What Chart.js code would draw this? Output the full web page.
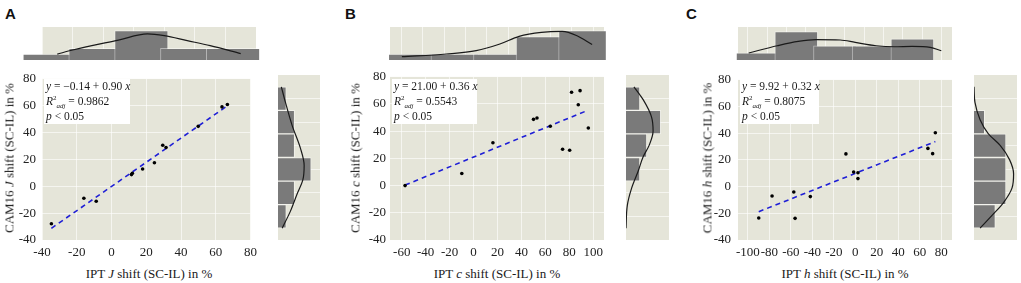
<!DOCTYPE html>
<html>
<head>
<meta charset="utf-8">
<script src="https://cdn.jsdelivr.net/npm/chart.js@4.4.1/dist/chart.umd.min.js"></script>
<style>
  body { margin: 0; background: #fff; }
  #wrap { position: relative; width: 1021px; height: 283px; overflow: hidden;
          font-family: "Liberation Serif", "Times New Roman", serif; color: #1a1a1a; }
  .box { position: absolute; }
  .box canvas { display: block; }
  .lab { position: absolute; font: bold 15px/15px "Liberation Sans", Arial, sans-serif; color: #111; }
  .xt { position: absolute; font-size: 13px; line-height: 15px; white-space: nowrap; transform: translate(-50%, -50%); }
  .yt { position: absolute; font-size: 13px; line-height: 15px; white-space: nowrap; transform: translate(-50%, -50%) rotate(-90deg); }
  .eq { position: absolute; background: #fff; font-size: 11.5px; line-height: 15px; padding: 0 2px; box-sizing: border-box; white-space: nowrap; }
  .eq sup, .eq sub { font-size: 7px; line-height: 0; }
</style>
</head>
<body>
<div id="wrap"></div>
<script>
// ---- panel A: lightness J ----
const ptsAx = [-34.6, -15.9, -8.8, 11.5, 12.0, 17.9, 24.7, 29.5, 31.4, 49.9, 63.6, 66.7];
const ptsAy = [-27.9, -8.9, -11.1, 8.7, 9.6, 12.9, 17.5, 30.5, 28.9, 44.6, 59.1, 60.9];
const fitAx = [-34.6, 66.7];
const fitAy = [-31.3, 59.9];
const topBinWidthA = 30;
const topBinsA = [-45, -15, 15, 45, 75];
const topCountsA = [1, 2, 5, 2, 2];
const topDensAx = [-40, -30, 0, 19, 30, 45, 60, 80];
const topDensAy = [1.0, 1.7, 3.4, 4.45, 4.15, 3.3, 2.45, 1.1];
const sideBinsA = [70, 50, 30, 10, -10, -30];
const sideCountsA = [1, 2, 2, 4, 2, 1];
const sideDensAy = [80, 66.7, 47.3, 27.9, 13.3, 1.2, -11, -25.5, -40];
const sideDensAx = [0.4, 0.9, 1.7, 2.7, 3.15, 3.0, 2.3, 1.5, 0.5];

// ---- panel B: chroma c ----
const ptsBx = [-57.2, -9.8, 16.2, 50.1, 53.0, 64.1, 74.4, 80.3, 81.9, 87.5, 89.0, 95.9];
const ptsBy = [0, 8.9, 31.5, 48.7, 49.7, 43.6, 26.7, 26.0, 68.6, 59.4, 69.8, 42.4];
const fitBx = [-57.2, 95.9];
const fitBy = [0.4, 55.5];
const topBinWidthB = 40;
const topBinsB = [-60, -20, 20, 60, 100];
const topCountsB = [1, 1, 1, 4, 5];
const topDensBx = [-69.8, -28, 0, 22.3, 40.4, 61.3, 80.8, 94.8, 109];
const topDensBy = [0.56, 1.02, 1.59, 2.73, 4.03, 4.71, 4.88, 4.15, 2.63];
const sideBinsB = [70, 50, 30, 10];
const sideCountsB = [2, 5, 3, 2];
const sideDensBy = [80, 69.1, 54.5, 42.4, 30.3, 20.6, 8.5, -6, -20.6, -40];
const sideDensBx = [1.14, 2.47, 3.67, 3.9, 3.33, 2.47, 1.76, 0.81, 0.19, 0];

// ---- panel C: hue h ----
const ptsCx = [-89.9, -77.5, -57.3, -56.1, -41.9, -8.8, -1.6, 2.4, 2.4, 67.5, 71.9, 74.4];
const ptsCy = [-23.5, -7.0, -4.1, -23.8, -7.5, 24.5, 10.9, 10.4, 6.0, 28.6, 24.7, 40.3];
const fitCx = [-89.9, 74.4];
const fitCy = [-18.8, 33.7];
const topBinWidthC = 40;
const topBinsC = [-100, -60, -20, 20, 60];
const topCountsC = [1, 4, 2, 2, 3];
const topDensCx = [-109.2, -79.7, -58, -39.4, -14.6, 0.9, 22.6, 41.2, 59.7, 78.4, 89.9];
const topDensCy = [0.99, 2.01, 2.62, 2.86, 2.82, 2.48, 2.01, 1.87, 1.92, 1.77, 1.31];
const sideBinsC = [50, 30, 10, -10, -30];
const sideCountsC = [1, 3, 3, 3, 2];
const sideDensCy = [80, 66.7, 52.1, 40, 30.3, 18.2, 6.1, -6, -18.2, -27.9, -40];
const sideDensCx = [0, 0.09, 0.57, 1.35, 2.45, 3.33, 3.71, 3.56, 2.77, 1.82, 0.57];

const yTicksMin = -40, yTicksMax = 80;
const PLOT_W = 214;

const BG = '#e5e5d9';
const BAR = '#7a7a7a';
const GRID = 'rgba(255,255,255,0.6)';
const TICK_FONT = { family: '"Liberation Serif", "Times New Roman", serif', size: 13 };

// fill the plotting area like a ggplot panel
Chart.register({
  id: 'panelBg',
  beforeDraw(chart) {
    const { ctx, chartArea: a } = chart;
    ctx.save();
    ctx.fillStyle = BG;
    ctx.fillRect(a.left, a.top, a.right - a.left, a.bottom - a.top);
    ctx.restore();
  }
});

const wrap = document.getElementById('wrap');

function place(left, top, width, height) {
  const d = document.createElement('div');
  d.className = 'box';
  d.style.cssText = `left:${left}px;top:${top}px;width:${width}px;height:${height}px`;
  const cv = document.createElement('canvas');
  cv.width = width;
  cv.height = height;
  d.appendChild(cv);
  wrap.appendChild(d);
  return cv;
}

function addHtml(cls, html, css) {
  const d = document.createElement('div');
  d.className = cls;
  d.innerHTML = html;
  d.style.cssText = css;
  wrap.appendChild(d);
}

const zip = (xs, ys) => xs.map((x, i) => ({ x, y: ys[i] }));

const base = {
  responsive: false,
  maintainAspectRatio: false,
  animation: false,
  events: [],
  plugins: { legend: { display: false }, tooltip: { enabled: false } }
};

function mainChart(p) {
  const cv = place(p.left - 42, 65, 262, 200);
  new Chart(cv, {
    type: 'scatter',
    data: {
      datasets: [
        {
          data: zip(p.fx, p.fy),
          showLine: true,
          borderColor: '#1f1fd6',
          borderWidth: 1.6,
          borderDash: [5, 4],
          pointRadius: 0,
          order: 2
        },
        {
          data: zip(p.px, p.py),
          pointRadius: 1.8,
          pointBackgroundColor: '#000',
          pointBorderWidth: 0,
          order: 1
        }
      ]
    },
    options: {
      ...base,
      layout: { padding: { top: 10, right: 6, left: 0, bottom: 0 } },
      scales: {
        x: {
          type: 'linear', min: p.xmin, max: p.xmax,
          border: { display: false },
          grid: { color: GRID, lineWidth: 1, drawTicks: false },
          ticks: { stepSize: 20, includeBounds: false, autoSkip: false, maxRotation: 0,
                   padding: 5, color: '#222', font: TICK_FONT },
          afterFit: s => { s.height = 25; }
        },
        y: {
          type: 'linear', min: yTicksMin, max: yTicksMax,
          border: { display: false },
          grid: { color: GRID, lineWidth: 1, drawTicks: false },
          ticks: { stepSize: 20, padding: p.ypad, color: '#222', font: TICK_FONT },
          afterFit: s => { s.width = 42; }
        }
      }
    }
  });
}

function topHist(p) {
  const cv = place(p.left - 40, 27, PLOT_W + 80, 33);
  new Chart(cv, {
    type: 'bar',
    data: {
      datasets: [
        {
          type: 'line',
          data: zip(p.dx, p.dy),
          borderColor: '#1a1a1a', borderWidth: 1.2, pointRadius: 0,
          cubicInterpolationMode: 'monotone', clip: false, order: 1
        },
        {
          type: 'bar',
          data: zip(p.bins, p.counts),
          backgroundColor: BAR, borderColor: 'rgba(255,255,255,0.45)', borderWidth: 1,
          barThickness: p.binWidth * PLOT_W / (p.xmax - p.xmin),
          clip: false, order: 2
        }
      ]
    },
    options: {
      ...base,
      layout: { padding: { left: 40, right: 40, top: 0, bottom: 0 } },
      scales: {
        x: {
          type: 'linear', min: p.xmin, max: p.xmax,
          border: { display: false },
          grid: { color: GRID, drawTicks: false },
          ticks: { display: false, stepSize: 20, includeBounds: false },
          afterFit: s => { s.height = 0; }
        },
        y: { min: 0, max: p.ymax, display: false }
      }
    }
  });
}

function sideHist(p) {
  const cv = place(p.left, 65, p.width, 185);
  new Chart(cv, {
    type: 'bar',
    data: {
      datasets: [
        {
          type: 'line', indexAxis: 'y',
          data: zip(p.dx, p.dy),
          borderColor: '#1a1a1a', borderWidth: 1.2, pointRadius: 0,
          cubicInterpolationMode: 'monotone', clip: false, order: 1
        },
        {
          type: 'bar',
          data: zip(p.counts, p.bins),
          backgroundColor: BAR, borderColor: 'rgba(255,255,255,0.45)', borderWidth: 1,
          barPercentage: 1, categoryPercentage: 1, clip: false, order: 2
        }
      ]
    },
    options: {
      ...base,
      indexAxis: 'y',
      layout: { padding: { left: 0, right: 0, top: 10, bottom: 10 } },
      scales: {
        x: { type: 'linear', min: 0, max: p.xmax, display: false },
        y: {
          type: 'linear', min: yTicksMin, max: yTicksMax,
          border: { display: false },
          grid: { color: GRID, drawTicks: false },
          ticks: { display: false, stepSize: 20 },
          afterFit: s => { s.width = 0; }
        }
      }
    }
  });
}

const panels = [
  { key: 'A', left: 42, xmin: -40, xmax: 80, ypad: 6, var: 'J',
    px: ptsAx, py: ptsAy, fx: fitAx, fy: fitAy,
    top: { binWidth: topBinWidthA, bins: topBinsA, counts: topCountsA, dx: topDensAx, dy: topDensAy, ymax: 5.63 },
    side: { left: 278, width: 42, xmax: 5.06, bins: sideBinsA, counts: sideCountsA, dx: sideDensAx, dy: sideDensAy },
    eq: ['<i>y</i> = &minus;0.14 + 0.90 <i>x</i>', '0.9862'], eqW: 86, ytx: 9, lab: 5 },
  { key: 'B', left: 390, xmin: -69.8, xmax: 109, ypad: 4, var: 'c',
    px: ptsBx, py: ptsBy, fx: fitBx, fy: fitBy,
    top: { binWidth: topBinWidthB, bins: topBinsB, counts: topCountsB, dx: topDensBx, dy: topDensBy, ymax: 5.63 },
    side: { left: 626, width: 43, xmax: 6.19, bins: sideBinsB, counts: sideCountsB, dx: sideDensBx, dy: sideDensBy },
    eq: ['<i>y</i> = 21.00 + 0.36 <i>x</i>', '0.5543'], eqW: 85, ytx: 355, lab: 345 },
  { key: 'C', left: 738, xmin: -109.2, xmax: 89.9, ypad: 7, var: 'h',
    px: ptsCx, py: ptsCy, fx: fitCx, fy: fitCy,
    top: { binWidth: topBinWidthC, bins: topBinsC, counts: topCountsC, dx: topDensCx, dy: topDensCy, ymax: 4.65 },
    side: { left: 974, width: 43, xmax: 4.03, bins: sideBinsC, counts: sideCountsC, dx: sideDensCx, dy: sideDensCy },
    eq: ['<i>y</i> = 9.92 + 0.32 <i>x</i>', '0.8075'], eqW: 79, ytx: 707, lab: 686 }
];

panels.forEach(p => {
  mainChart(p);
  topHist({ left: p.left, xmin: p.xmin, xmax: p.xmax, ...p.top });
  sideHist(p.side);

  addHtml('lab', p.key, `left:${p.lab}px;top:6px`);
  addHtml('xt', `IPT <i>${p.var}</i> shift (SC-IL) in %`, `left:${p.left + PLOT_W / 2}px;top:273px`);
  addHtml('yt', `CAM16 <i>${p.var}</i> shift (SC-IL) in %`, `left:${p.ytx}px;top:157.5px`);
  addHtml('eq',
    `${p.eq[0]}<br><i>R</i><sup>2</sup><sub><i>adj</i></sub> = ${p.eq[1]}<br><i>p</i> &lt; 0.05`,
    `left:${p.left + 2}px;top:79px;width:${p.eqW}px;height:45px`);
});
</script>
</body>
</html>
